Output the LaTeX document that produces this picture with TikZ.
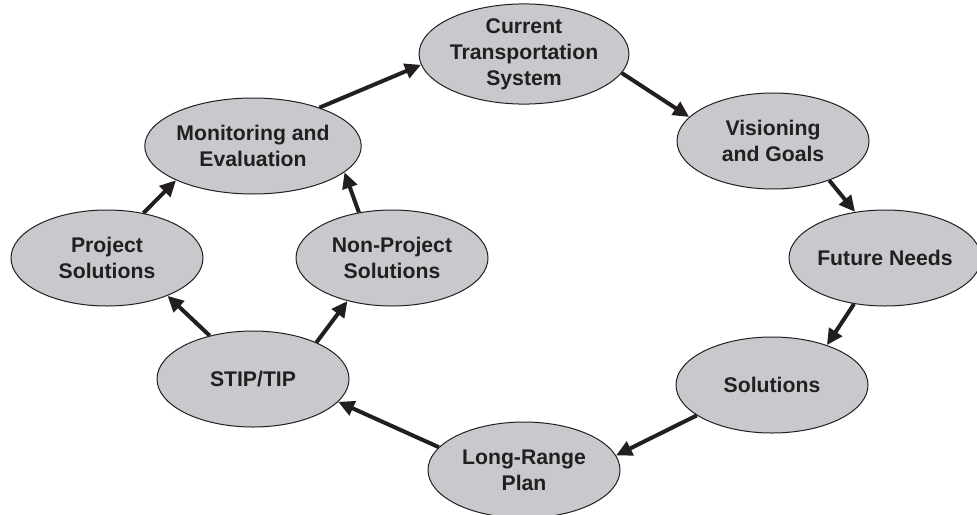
\documentclass[tikz,border=0pt]{standalone}
\usepackage{fontspec}
\setmainfont{Liberation Sans}
\usetikzlibrary{arrows.meta,shapes.geometric}
\definecolor{ovalgray}{RGB}{200,201,205}
\definecolor{ink}{RGB}{35,31,32}

\begin{document}
\begin{tikzpicture}[x=0.5pt, y=-0.5pt,
    oval/.style={ellipse, draw=ink, line width=0.5pt, fill=ovalgray,
      minimum width=96pt, minimum height=48pt, inner sep=0pt, align=center,
      text=ink, font=\fontsize{10.6}{12.9}\selectfont\bfseries},
    arr/.style={draw=ink, line width=2pt, -{Triangle[length=8pt,width=7.5pt]}}]
        \useasboundingbox (0,0) rectangle (977,514);
        %nodes
        \node[oval] (cur) at (524, 54) {Current\\Transportation\\System};
        \node[oval] (vis) at (773, 141) {Visioning\\and Goals};
        \node[oval] (fut) at (885, 258) {Future Needs};
        \node[oval] (sol) at (772, 385) {Solutions};
        \node[oval] (lrp) at (524, 470) {Long-Range\\Plan};
        \node[oval] (stip) at (253, 379) {STIP/TIP};
        \node[oval] (proj) at (107, 258) {Project\\Solutions};
        \node[oval] (nonp) at (392, 258) {Non-Project\\Solutions};
        \node[oval] (mon) at (253, 146) {Monitoring and\\Evaluation};
        %edges
        \path [arr] (mon.30) to (cur.186);
        \path [arr] (cur.-11) to (vis.164);
        \path [arr] (vis.-35) to (fut.123);
        \path [arr] (fut.236) to (sol.36);
        \path [arr] (sol.202) to (lrp.9);
        \path [arr] (lrp.165) to (stip.-15);
        \path [arr] (stip.135) to (proj.-32);
        \path [arr] (stip.30) to (nonp.224);
        \path [arr] (proj.51) to (mon.204);
        \path [arr] (nonp.126) to (mon.-16);
\end{tikzpicture}
\end{document}
